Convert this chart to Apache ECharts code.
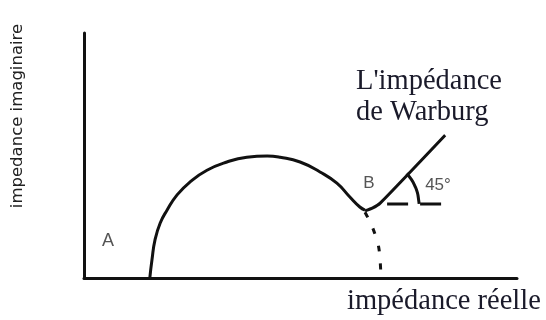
<!DOCTYPE html>
<html>
<head>
<meta charset="utf-8">
<script src="https://cdn.jsdelivr.net/npm/echarts@6/dist/echarts.min.js"></script>
<style>
	html, body { margin: 0; padding: 0; background: #fff; }
	#main { width: 546px; height: 320px; }
</style>
</head>
<body>
<div id="main"></div>
<script>
/*demi-cercle (transfert de charge)*/
var arcX = [15.2, 15.7, 16.4, 17.6, 19.2, 21.5, 24.5, 28.4, 33.0, 37.6, 42.3, 45.3, 49.9, 54.5, 58.4, 61.4, 63.7, 64.9];
var arcY = [0, 4.2, 8.8, 12.7, 15.7, 19.2, 22.2, 24.9, 26.8, 27.9, 28.2, 27.9, 26.8, 24.5, 21.9, 18.7, 16.4, 15.7];
/*droite de Warburg*/
var warburgX = [64.9, 66.7, 68.4, 83.4];
var warburgY = [15.5, 16.2, 17.3, 33.0];
/*prolongement en pointillés*/
var dashX = [64.9, 66.7, 68.1, 68.6];
var dashY = [15.2, 11.5, 6.9, 0];
/*horizontale de référence*/
var horizX = [70.0, 82.7];
var horizY = [17.1, 17.1];
/*arc de l'angle 45°*/
var angleX = [74.5, 75.6, 76.4, 77.0, 77.3, 77.4];
var angleY = [24.1, 22.8, 21.3, 19.7, 17.9, 17.1];

function pairs(xs, ys) {
	var out = [];
	for(var i = 0; i < xs.length; i++) {
		out.push([xs[i], ys[i]]);
	}
	return out;
}

var lineColor = '#111';
var chart = echarts.init(document.getElementById('main'));
var option = {
	animation: false,
	grid: { left: 84, right: 29, top: 33, bottom: 42 },
	xAxis: {
		type: 'value', min: 0, max: 100,
		axisLine: { show: true, lineStyle: { color: lineColor, width: 3 } },
		axisTick: { show: false }, axisLabel: { show: false }, splitLine: { show: false }
	},
	yAxis: {
		type: 'value', min: 0, max: 56.6,
		axisLine: { show: true, lineStyle: { color: lineColor, width: 3 } },
		axisTick: { show: false }, axisLabel: { show: false }, splitLine: { show: false }
	},
	series: [{
		type: 'line', data: pairs(arcX, arcY), smooth: 0.5, symbol: 'none',
		lineStyle: { color: lineColor, width: 3 }
	}, {
		type: 'line', data: pairs(warburgX, warburgY), smooth: 0.2, symbol: 'none',
		lineStyle: { color: lineColor, width: 3 }
	}, {
		type: 'line', data: pairs(dashX, dashY), smooth: 0.3, symbol: 'none',
		lineStyle: { color: lineColor, width: 3, type: [6, 12] }
	}, {
		type: 'line', data: pairs(horizX, horizY), symbol: 'none',
		lineStyle: { color: lineColor, width: 3, type: [21, 12] }
	}, {
		type: 'line', data: pairs(angleX, angleY), smooth: 0.5, symbol: 'none',
		lineStyle: { color: lineColor, width: 3 }
	}],
	graphic: [{
		type: 'text', x: 18, y: 116, rotation: Math.PI / 2,
		style: {
			text: 'impedance imaginaire', fill: '#222',
			font: '16.5px "DejaVu Sans", sans-serif',
			align: 'center', verticalAlign: 'middle'
		}
	}, {
		type: 'text', x: 356, y: 66,
		style: {
			text: "L'impédance\nde Warburg", fill: '#1a1a2a', lineHeight: 31,
			font: '28.5px "Liberation Serif", "Times New Roman", serif'
		}
	}, {
		type: 'text', x: 347, y: 287,
		style: {
			text: 'impédance réelle', fill: '#1a1a2a',
			font: '28.5px "Liberation Serif", "Times New Roman", serif'
		}
	}, {
		type: 'text', x: 108, y: 241,
		style: {
			text: 'A', fill: '#555', align: 'center', verticalAlign: 'middle',
			font: '18px "Liberation Sans", Arial, sans-serif'
		}
	}, {
		type: 'text', x: 369, y: 183,
		style: {
			text: 'B', fill: '#555', align: 'center', verticalAlign: 'middle',
			font: '17px "Liberation Sans", Arial, sans-serif'
		}
	}, {
		type: 'text', x: 438, y: 185,
		style: {
			text: '45°', fill: '#555', align: 'center', verticalAlign: 'middle',
			font: '17px "Liberation Sans", Arial, sans-serif'
		}
	}]
};
chart.setOption(option);
</script>
</body>
</html>
